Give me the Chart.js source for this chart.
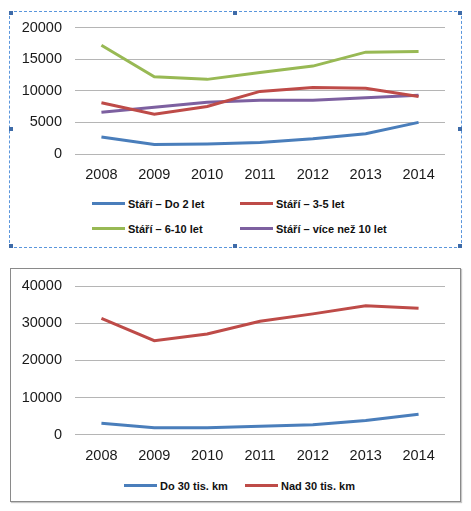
<!DOCTYPE html>
<html>
<head>
<meta charset="utf-8">
<script src="https://cdn.jsdelivr.net/npm/chart.js@4"></script>
<style>
	body { margin: 0; background: #fff; width: 471px; height: 511px; position: relative; overflow: hidden; }
	.box { position: absolute; box-sizing: border-box; }
	.box_top { left: 9px; top: 11px; width: 453px; height: 237px; border: 1px dashed #5a96dc; }
	.box_bottom { left: 10px; top: 268px; width: 451px; height: 234px; border: 1px solid #8a8a8a; box-shadow: 1px 1px 1px #c8c8c8; }
	.handle { position: absolute; width: 4px; height: 4px; background: #3e6ba8; }
	.holder { position: absolute; }
	.legend_item { position: absolute; height: 14px; white-space: nowrap; font: bold 11px "Liberation Sans", Arial, sans-serif; color: #111; }
	.legend_item span.swatch { position: absolute; left: 0; top: 5px; width: 33px; height: 3px; }
	.legend_item span.text { position: absolute; left: 36px; top: 0; line-height: 14px; }
</style>
</head>
<body>
<div class="box box_top"></div>
<div class="box box_bottom"></div>

<div class="holder" style="left:10px; top:12px; width:450px; height:180px;"><canvas id="chart_stari"></canvas></div>
<div class="holder" style="left:10px; top:268px; width:450px; height:200px;"><canvas id="chart_km"></canvas></div>

<script>
// data
var roky = ['2008', '2009', '2010', '2011', '2012', '2013', '2014'];

var stari_do_2 = [2700, 1500, 1600, 1800, 2400, 3200, 5000];
var stari_3_5 = [8100, 6300, 7500, 9900, 10500, 10400, 9100];
var stari_6_10 = [17200, 12200, 11800, 12900, 13900, 16100, 16200];
var stari_nad_10 = [6600, 7400, 8200, 8500, 8500, 8900, 9300];

var km_do_30 = [3100, 1900, 1900, 2300, 2700, 3800, 5500];
var km_nad_30 = [31300, 25300, 27100, 30500, 32500, 34700, 34000];

var ticks_stari = [0, 5000, 10000, 15000, 20000];
var ticks_km = [0, 10000, 20000, 30000, 40000];

var BLUE = '#4a7ebb';
var RED = '#be4b48';
var GREEN = '#98b954';
var PURPLE = '#7d60a0';

Chart.defaults.font.family = '"Liberation Sans", Arial, sans-serif';
Chart.defaults.color = '#1a1a1a';

var grafy = {
	startUp: function () {
		grafy.handles();

		var c1 = grafy.lineChart('chart_stari', [
			{ label: 'Stáří – Do 2 let', data: stari_do_2, color: BLUE },
			{ label: 'Stáří – 3-5 let', data: stari_3_5, color: RED },
			{ label: 'Stáří – 6-10 let', data: stari_6_10, color: GREEN },
			{ label: 'Stáří – více než 10 let', data: stari_nad_10, color: PURPLE }
		], ticks_stari, { top: 15.5, axisBottom: 142, height: 180, xPad: 12 });

		var c2 = grafy.lineChart('chart_km', [
			{ label: 'Do 30 tis. km', data: km_do_30, color: BLUE },
			{ label: 'Nad 30 tis. km', data: km_nad_30, color: RED }
		], ticks_km, { top: 18, axisBottom: 166.7, height: 200, xPad: 13 });

		// legend positions (left of swatch, vertical centre)
		grafy.legend(c1, [[92, 204], [240, 204], [92, 229], [240, 229]]);
		grafy.legend(c2, [[124, 486], [245, 486]]);
	}, // end - startUp

	handles: function () {
		var pos = [
			[9, 11], [233, 11], [458, 11],
			[9, 127], [458, 127],
			[9, 244], [233, 244], [458, 244]
		];
		for (var i = 0; i < pos.length; i++) {
			var h = document.createElement('div');
			h.className = 'handle';
			h.style.left = pos[i][0] + 'px';
			h.style.top = pos[i][1] + 'px';
			document.body.appendChild(h);
		}
	}, // end - handles

	lineChart: function (id, series, yTicks, lay) {
		var datasets = series.map(function (s) {
			return {
				label: s.label,
				data: s.data,
				borderColor: s.color,
				backgroundColor: s.color,
				borderWidth: 3,
				pointRadius: 0,
				pointHoverRadius: 0,
				tension: 0,
				fill: false
			};
		});

		return new Chart(id, {
			type: 'line',
			data: { labels: roky, datasets: datasets },
			options: {
				responsive: true,
				maintainAspectRatio: false,
				animation: false,
				layout: { padding: { left: 0, right: 15, top: lay.top, bottom: 0 } },
				plugins: {
					legend: { display: false },
					tooltip: { enabled: false }
				},
				scales: {
					x: {
						offset: true,
						grid: { display: false, drawTicks: false },
						border: { display: false },
						ticks: { padding: lay.xPad, font: { size: 14.5 }, maxRotation: 0 },
						afterFit: function (scale) { scale.height = lay.height - lay.axisBottom; }
					},
					y: {
						min: yTicks[0],
						max: yTicks[yTicks.length - 1],
						afterBuildTicks: function (scale) {
							scale.ticks = yTicks.map(function (v) { return { value: v }; });
						},
						grid: { color: '#b5b5b5', lineWidth: 1, drawTicks: false },
						border: { display: false },
						ticks: {
							padding: 13,
							font: { size: 14.5 },
							callback: function (value) { return String(value); }
						},
						afterFit: function (scale) {
							scale.width = 65;
							// keep the plot top where the layout padding puts it
							scale.paddingTop = 0;
							scale.paddingBottom = 0;
						}
					}
				}
			}
		});
	}, // end - lineChart

	legend: function (chart, places) {
		chart.data.datasets.forEach(function (ds, i) {
			var item = document.createElement('div');
			item.className = 'legend_item';
			item.style.left = places[i][0] + 'px';
			item.style.top = (places[i][1] - 7) + 'px';

			var sw = document.createElement('span');
			sw.className = 'swatch';
			sw.style.background = ds.borderColor;

			var tx = document.createElement('span');
			tx.className = 'text';
			tx.textContent = ds.label;

			item.appendChild(sw);
			item.appendChild(tx);
			document.body.appendChild(item);
		});
	} // end - legend
};

grafy.startUp();
</script>
</body>
</html>
